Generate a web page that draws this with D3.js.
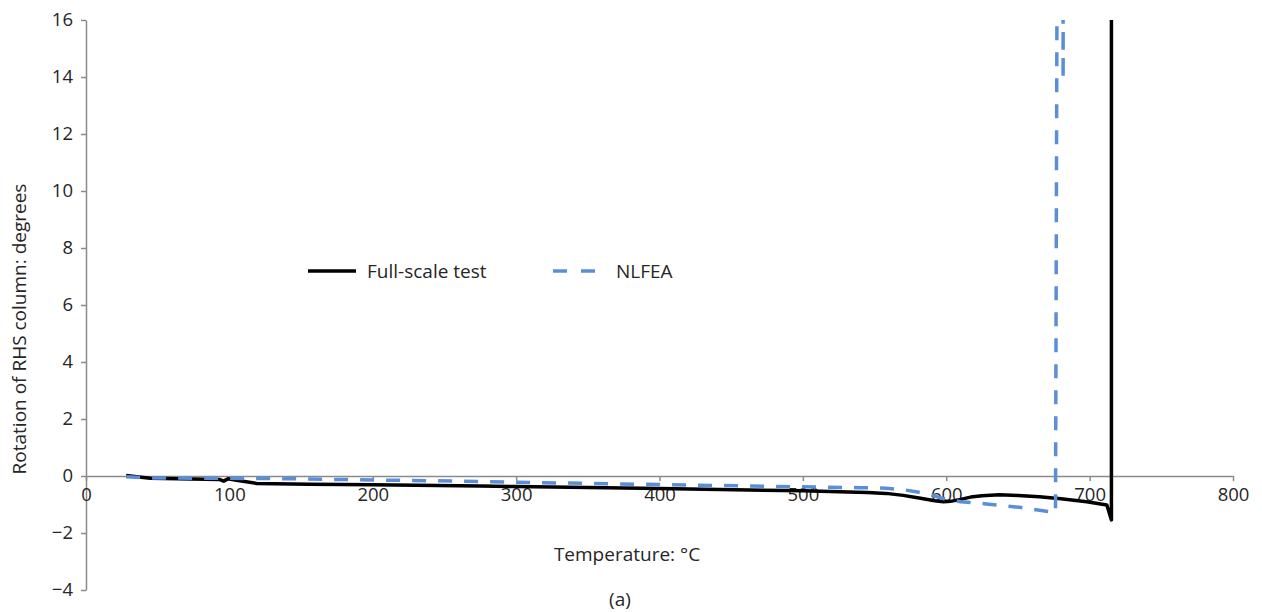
<!DOCTYPE html>
<html>
<head>
<meta charset="utf-8">
<script src="https://cdn.jsdelivr.net/npm/d3@7"></script>
<style>
  body { margin: 0; background: #fff; }
  text { font-family: "Open Sans", "Noto Sans", sans-serif; fill: #262626; }
</style>
</head>
<body>
<div id="chart"></div>
<script>
// temperature (°C) and rotation (degrees)
let testTemp = [28, 40, 45, 93, 96, 99, 105, 119, 156, 200, 275, 300, 400, 500, 525, 545, 558, 570, 582, 592, 598, 603, 610, 617, 625, 637, 650, 665, 680, 698, 712, 715.2, 715.2];
let testRot  = [0.02, -0.05, -0.08, -0.12, -0.18, -0.1, -0.15, -0.26, -0.29, -0.31, -0.35, -0.37, -0.44, -0.52, -0.55, -0.58, -0.61, -0.68, -0.78, -0.87, -0.9, -0.89, -0.82, -0.74, -0.69, -0.66, -0.68, -0.73, -0.8, -0.9, -1.02, -1.54, 18];

let feaTemp = [28, 45, 100, 150, 200, 275, 300, 400, 500, 540, 558, 570, 580, 590, 600, 610, 628, 651, 672, 676.2, 677.3, 681.5, 681.5, 681.6];
let feaRot  = [-0.03, -0.07, -0.08, -0.1, -0.14, -0.19, -0.22, -0.3, -0.38, -0.41, -0.43, -0.48, -0.56, -0.68, -0.82, -0.9, -0.98, -1.1, -1.25, -1.29, 18, 18, 13.9, 18];

let xTicks = [0, 100, 200, 300, 400, 500, 600, 700, 800];
let yTicks = [-4, -2, 0, 2, 4, 6, 8, 10, 12, 14, 16];

let width = 1262, height = 612;
let x = d3.scaleLinear().domain([0, 800]).range([86, 1233]);
let y = d3.scaleLinear().domain([-4, 16]).range([590, 20]);

let svg = d3.select("#chart").append("svg")
    .attr("width", width)
    .attr("height", height);

svg.append("clipPath").attr("id", "plot")
  .append("rect")
    .attr("x", 86).attr("y", 20)
    .attr("width", 1233 - 86).attr("height", 570);

// y axis
let yAxis = svg.append("g")
    .attr("transform", "translate(86,0)")
    .call(d3.axisLeft(y).tickValues(yTicks).tickSize(5).tickSizeOuter(0).tickPadding(8)
      .tickFormat(d => d < 0 ? "\u2212" + Math.abs(d) : d));

// x axis at zero
let xAxis = svg.append("g")
    .attr("transform", "translate(0," + y(0) + ")")
    .call(d3.axisBottom(x).tickValues(xTicks).tickSize(5).tickSizeOuter(0).tickPadding(7));

[xAxis, yAxis].forEach(a => {
  a.select(".domain").attr("stroke", "#8a8a8a").attr("stroke-width", 1.5);
  a.selectAll(".tick line").attr("stroke", "#8a8a8a").attr("stroke-width", 1.5);
  a.selectAll(".tick text").style("font-size", "18.5px").attr("fill", "#262626");
});

let line = d3.line().x(d => x(d[0])).y(d => y(d[1]));
let plot = svg.append("g").attr("clip-path", "url(#plot)");

plot.append("path")
    .datum(testTemp.map((t, i) => [t, testRot[i]]))
    .attr("d", line)
    .attr("fill", "none")
    .attr("stroke", "#000")
    .attr("stroke-width", 3.5)
    .attr("stroke-linejoin", "round");

plot.append("path")
    .datum(feaTemp.map((t, i) => [t, feaRot[i]]))
    .attr("d", line)
    .attr("fill", "none")
    .attr("stroke", "#5a8fd8")
    .attr("stroke-width", 3.5)
    .attr("stroke-dasharray", "14,12")
    .attr("stroke-linejoin", "round");

// axis titles
svg.append("text")
    .attr("x", 627).attr("y", 561)
    .attr("text-anchor", "middle")
    .style("font-size", "19px")
    .text("Temperature: °C");

svg.append("text")
    .attr("transform", "translate(26,329) rotate(-90)")
    .attr("text-anchor", "middle")
    .style("font-size", "19px")
    .text("Rotation of RHS column: degrees");

svg.append("text")
    .attr("x", 620).attr("y", 606)
    .attr("text-anchor", "middle")
    .style("font-size", "19px")
    .text("(a)");

// legend
let legend = svg.append("g");
legend.append("line")
    .attr("x1", 308).attr("x2", 356).attr("y1", 271).attr("y2", 271)
    .attr("stroke", "#000").attr("stroke-width", 3.5);
legend.append("text")
    .attr("x", 367).attr("y", 278)
    .style("font-size", "19px")
    .text("Full-scale test");
legend.append("line")
    .attr("x1", 553).attr("x2", 595).attr("y1", 271).attr("y2", 271)
    .attr("stroke", "#5a8fd8").attr("stroke-width", 3.5)
    .attr("stroke-dasharray", "14,14");
legend.append("text")
    .attr("x", 616).attr("y", 278)
    .style("font-size", "19px")
    .text("NLFEA");
</script>
</body>
</html>
